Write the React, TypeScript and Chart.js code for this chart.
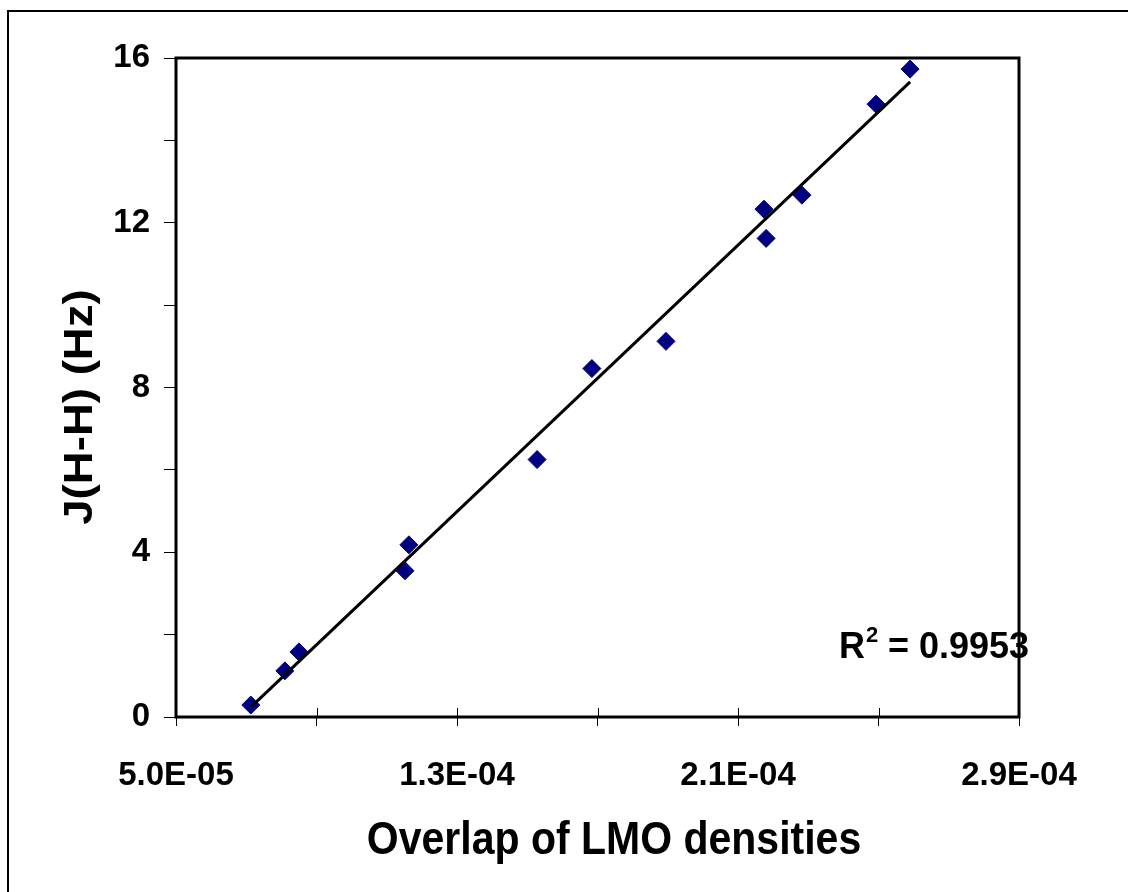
import React, { useEffect, useRef } from 'react';
import { Chart, registerables } from 'chart.js';

Chart.register(...registerables);

// ---- data ----
const overlapValues = [7.13e-5, 8.1e-5, 8.5e-5, 11.52e-5, 11.63e-5, 15.28e-5, 16.84e-5, 18.95e-5, 21.74e-5, 21.8e-5, 22.82e-5, 24.93e-5, 25.9e-5];
const couplingValues = [0.29, 1.12, 1.58, 3.55, 4.18, 6.25, 8.46, 9.12, 12.33, 11.62, 12.67, 14.88, 15.73];
const trendX = [7.13e-5, 25.9e-5];
const trendY = [0.24, 15.42];
const xTickValues = [5e-5, 9e-5, 13e-5, 17e-5, 21e-5, 25e-5, 29e-5];
const xTickLabels = ['5.0E-05', '', '1.3E-04', '', '2.1E-04', '', '2.9E-04'];
const yTickValues = [0, 2, 4, 6, 8, 10, 12, 14, 16];
const yTickLabels = ['0', '', '4', '', '8', '', '12', '', '16'];
const xTitle = 'Overlap of LMO densities';
const yTitle = 'J(H-H) (Hz)';
const rSquaredValue = '0.9953';

const FONT = '"Liberation Sans", Arial, Helvetica, sans-serif';

const decorPlugin = {
  id: 'decor',
  beforeDraw(chart: any) {
    const ctx = chart.ctx;
    ctx.save();
    ctx.fillStyle = '#ffffff';
    ctx.fillRect(0, 0, chart.width, chart.height);
    ctx.strokeStyle = '#000';
    ctx.lineWidth = 2;
    ctx.strokeRect(8, 11, chart.width + 50, chart.height + 50);
    ctx.restore();
  },
  afterDraw(chart: any) {
    const ctx = chart.ctx;
    const a = chart.chartArea;
    const xs = chart.scales.x;
    ctx.save();
    // inward halves of x tick marks
    ctx.strokeStyle = '#000';
    ctx.lineWidth = 1;
    for (const v of xTickValues) {
      const px = Math.round(xs.getPixelForValue(v)) + 0.5;
      ctx.beginPath();
      ctx.moveTo(px, a.bottom);
      ctx.lineTo(px, a.bottom - 9);
      ctx.stroke();
    }
    // plot frame
    ctx.lineWidth = 3;
    ctx.strokeRect(a.left, a.top, a.right - a.left, a.bottom - a.top);

    ctx.fillStyle = '#000';
    // x title
    ctx.save();
    ctx.font = `bold 41px ${FONT}`;
    ctx.textAlign = 'center';
    ctx.textBaseline = 'alphabetic';
    ctx.translate(614, 854);
    ctx.scale(1, 1.12);
    ctx.fillText(xTitle, 0, 0);
    ctx.restore();

    // y title
    ctx.save();
    ctx.font = `bold 40px ${FONT}`;
    ctx.textAlign = 'center';
    ctx.textBaseline = 'middle';
    ctx.translate(81, 407);
    ctx.rotate(-Math.PI / 2);
    ctx.scale(1.14, 1);
    ctx.fillText(yTitle, 0, 0);
    ctx.restore();

    // R^2 annotation
    ctx.save();
    ctx.textAlign = 'left';
    ctx.textBaseline = 'alphabetic';
    ctx.font = `bold 36px ${FONT}`;
    ctx.fillText('R', 839, 658);
    const rw = ctx.measureText('R').width;
    ctx.font = `bold 22px ${FONT}`;
    ctx.fillText('2', 839 + rw + 1, 642);
    ctx.font = `bold 36px ${FONT}`;
    ctx.fillText('= ' + rSquaredValue, 888, 658);
    ctx.restore();

    ctx.restore();
  },
};

export default function App() {
  const canvasRef = useRef<HTMLCanvasElement | null>(null);

  useEffect(() => {
    if (!canvasRef.current) return;
    const points = overlapValues.map((x, i) => ({ x, y: couplingValues[i] }));
    const trend = trendX.map((x, i) => ({ x, y: trendY[i] }));
    const chart = new Chart(canvasRef.current, {
      type: 'scatter',
      data: {
        datasets: [
          {
            label: 'Linear fit',
            data: trend,
            showLine: true,
            borderColor: '#000000',
            borderWidth: 3,
            pointRadius: 0,
            order: 0,
          },
          {
            label: 'J(H-H)',
            data: points,
            pointStyle: 'rectRot',
            pointRadius: 9,
            backgroundColor: '#000080',
            borderColor: '#000080',
            borderWidth: 1,
            order: 1,
          },
        ],
      },
      options: {
        animation: false,
        responsive: true,
        maintainAspectRatio: false,
        devicePixelRatio: 1,
        layout: { padding: { left: 0, top: 58, right: 109, bottom: 0 } },
        plugins: { legend: { display: false }, tooltip: { enabled: false } },
        scales: {
          x: {
            type: 'linear',
            min: 5e-5,
            max: 29e-5,
            afterBuildTicks: (scale: any) => {
              scale.ticks = xTickValues.map((v) => ({ value: v }));
            },
            afterFit: (scale: any) => {
              scale.height = 175;
            },
            ticks: {
              autoSkip: false,
              maxRotation: 0,
              padding: 30,
              color: '#000',
              font: { family: FONT, size: 33, weight: 'bold' },
              callback: (_v: any, i: number) => xTickLabels[i],
            },
            grid: { drawOnChartArea: false, drawTicks: true, tickLength: 9, color: '#000', lineWidth: 1 },
            border: { display: false },
          },
          y: {
            type: 'linear',
            min: 0,
            max: 16,
            afterBuildTicks: (scale: any) => {
              scale.ticks = yTickValues.map((v) => ({ value: v }));
            },
            afterFit: (scale: any) => {
              scale.width = 176;
            },
            ticks: {
              autoSkip: false,
              padding: 14,
              color: '#000',
              font: { family: FONT, size: 33, weight: 'bold' },
              callback: (_v: any, i: number) => yTickLabels[i],
            },
            grid: { drawOnChartArea: false, drawTicks: true, tickLength: 12, color: '#000', lineWidth: 1 },
            border: { display: false },
          },
        },
      },
      plugins: [decorPlugin],
    } as any);
    return () => chart.destroy();
  }, []);

  return (
    <div style={{ position: 'fixed', left: 0, top: 0, width: 1128, height: 892, background: '#fff' }}>
      <canvas ref={canvasRef} />
    </div>
  );
}
